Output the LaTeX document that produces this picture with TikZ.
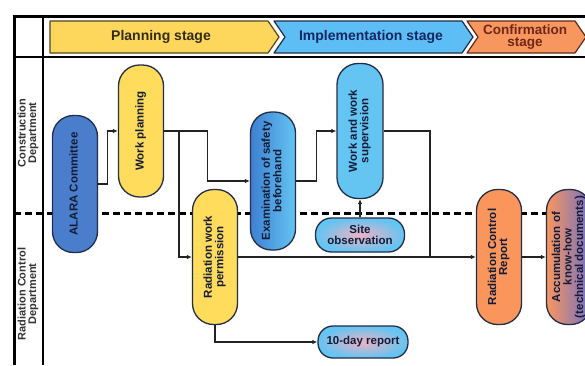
\documentclass[tikz,border=0pt]{standalone}
\usepackage{fontspec}
\usepackage{graphicx}
\setmainfont{Liberation Sans}
\usetikzlibrary{arrows.meta}
\definecolor{nodeline}{RGB}{35,45,70}
\definecolor{linec}{RGB}{35,35,35}
\definecolor{txt}{RGB}{20,28,55}
\definecolor{alarab}{RGB}{74,126,204}
\definecolor{ylw}{RGB}{255,220,92}
\definecolor{lblue}{RGB}{100,196,242}
\definecolor{dblue}{RGB}{62,128,210}
\definecolor{pinkc}{RGB}{238,178,196}
\definecolor{orng}{RGB}{250,150,92}
\definecolor{purp}{RGB}{110,112,200}
\definecolor{hylw}{RGB}{253,214,92}
\definecolor{hblue}{RGB}{92,190,245}
\definecolor{horng}{RGB}{248,150,96}
\newcommand{\vlab}[1]{\rotatebox{90}{\begin{tabular}{@{}c@{}}#1\end{tabular}}}
\tikzset{
  pill/.style={draw=nodeline, line width=1.3pt, rounded corners=21pt, minimum width=45pt, minimum height=135pt, inner sep=0pt, text=txt, font=\fontsize{11.5}{10.5}\selectfont\bfseries},
  hpill/.style={draw=nodeline, line width=1.3pt, rounded corners=15pt, minimum width=90pt, minimum height=32pt, inner sep=0pt, text=txt, align=center, font=\fontsize{11.5}{11}\selectfont\bfseries},
  conn/.style={draw=linec, line width=1.3pt},
  arr/.style={conn, -{Latex[length=5pt,width=4.5pt]}},
  hdr/.style={line width=1.2pt, line join=round},
  hdrtext/.style={font=\fontsize{14}{13}\selectfont\bfseries, align=center},
  deptlab/.style={rotate=90, align=center, text=black!80, font=\fontsize{11}{10.5}\selectfont\bfseries}
}
\begin{document}
\begin{tikzpicture}[x=1pt,y=-1pt]
\useasboundingbox (0,0) rectangle (585,365);
\clip (0,0) rectangle (585,365);
\fill[white] (0,0) rectangle (585,365);
% frame
\draw[line width=3pt] (12.5,16) -- (585,16);
\draw[line width=3pt] (14,16) -- (14,365);
\draw[line width=1.8pt] (43,16) -- (43,365);
\draw[line width=2pt] (14,57) -- (585,57);
\draw[line width=3pt, dash pattern=on 7pt off 4pt] (14,213) -- (585,213);
% header chevrons
\draw[hdr, draw={rgb,255:red,80;green,70;blue,30}, fill=hylw] (50,21) -- (268,21) -- (279,37) -- (268,53) -- (50,53) -- cycle;
\draw[hdr, draw=nodeline, fill=hblue] (274,21) -- (462,21) -- (473,37) -- (462,53) -- (274,53) -- (285,37) -- cycle;
\draw[hdr, draw={rgb,255:red,90;green,45;blue,25}, fill=horng] (467,21) -- (575,21) -- (586,37) -- (575,53) -- (467,53) -- (478,37) -- cycle;
\node[hdrtext, text={rgb,255:red,50;green,45;blue,20}] (hplan) at (161,37) {Planning stage};
\node[hdrtext, text={rgb,255:red,20;green,40;blue,95}] (himpl) at (371,37) {Implementation stage};
\node[hdrtext, text={rgb,255:red,110;green,40;blue,20}, font=\fontsize{13.5}{12}\selectfont\bfseries] (hconf) at (525,37) {Confirmation\\stage};
% department labels
\node[deptlab] (dcon) at (28,133) {Construction\\Department};
\node[deptlab] (drad) at (28,294) {Radiation Control\\Department};
% nodes
\node[pill, fill=alarab, minimum height=137pt] (alara) at (75,184) {\vlab{ALARA Committee}};
\node[pill, fill=ylw, minimum height=132pt] (wp) at (141,131) {\vlab{Work planning}};
\node[pill, left color=dblue, right color=lblue, minimum height=138pt] (exam) at (273,181) {\vlab{Examination of safety\\beforehand}};
\node[pill, fill=lblue, minimum width=46pt] (wws) at (360,131) {\vlab{Work and work\\supervision}};
\node[hpill, inner color=pinkc, outer color=lblue, minimum width=89pt, minimum height=34pt, rounded corners=16pt] (site) at (360,235) {Site\\observation};
\node[pill, fill=ylw] (rwp) at (215,257) {\vlab{Radiation work\\permission}};
\node[hpill, inner color=pinkc, outer color=lblue] (ten) at (363,342) {10-day report};
\node[pill, fill=orng] (rcr) at (499,257) {\vlab{Radiation Control\\Report}};
\node[pill, left color=orng, right color=purp] (acc) at (569,257) {\vlab{Accumulation of\\know-how\\(technical documents)}};
% connectors
\draw[arr] (alara.east) -- ++(9,0) |- (wp.west);
\draw[arr] (wp.east) -- ++(43.5,0) |- (exam.west);
\coordinate (br) at (179,131);
\draw[arr] (br) |- (rwp.west);
\draw[arr] (exam.east) -- ++(20,0) |- (wws.west);
\draw[arr] (site.north) -- (wws.south);
\coordinate (jn) at (430,257);
\draw[conn] (wws.east) -| (jn);
\draw[arr] (rwp.east) -- (rcr.west);
\draw[arr] (rcr.east) -- (acc.west);
\draw[arr] (rwp.south) |- (ten.west);
\end{tikzpicture}
\end{document}
